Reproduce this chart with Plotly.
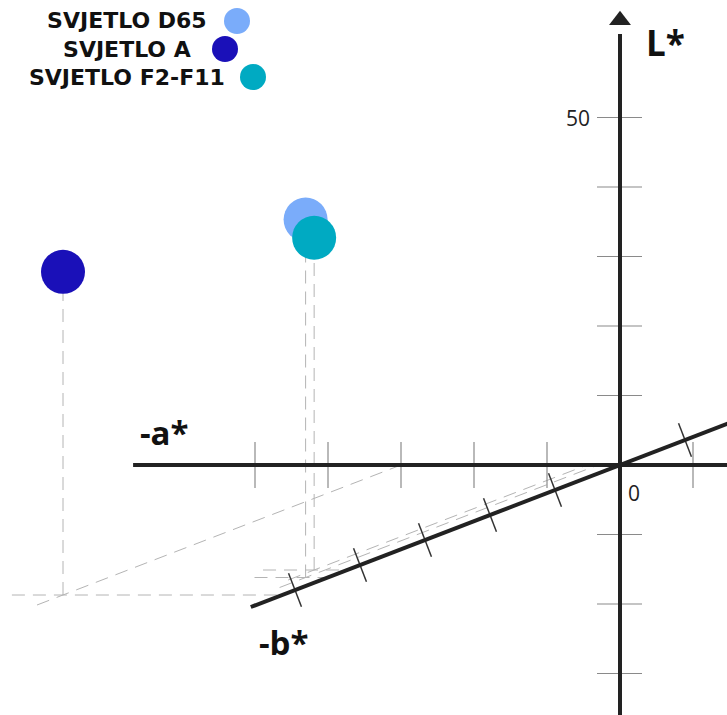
import plotly.graph_objs as go

# light sources, CIELAB values
names = ["SVJETLO D65", "SVJETLO A", "SVJETLO F2-F11"]
a_vals = [-3, -30, -4.5]
b_vals = [-45, -52, -42]
L_vals = [51.5, 46.5, 47.8]
colors = ["#7aacfa", "#1a10b8", "#00aac2"]

L_ticks = [50, 40, 30, 20, 10, -10, -20, -30]
a_ticks = [-50, -40, -30, -20, -10, 10]
b_ticks = [-50, -40, -30, -20, -10, 10]

# oblique projection of (a*, b*, L*) onto the page, one axis unit = one pixel
KA = 7.3
KB = (6.5, 2.5)
KL = 6.95
W, H = 727, 715
OX, OY = 620, 465  # pixel position of the origin


def proj(a, b, L):
    return KA * a + KB[0] * b, KL * L + KB[1] * b


def seg(xs, ys, p, q):
    xs += [p[0], q[0], None]
    ys += [p[1], q[1], None]


fig = go.Figure()

# dashed construction lines
gx, gy = [], []
for a, b, L in zip(a_vals, b_vals, L_vals):
    seg(gx, gy, proj(a, b, 0), proj(a, b, L))
    seg(gx, gy, proj(a - 7, b, 0), proj(0, b, 0))
    seg(gx, gy, proj(a, b - 4, 0), proj(a, 0, 0))
fig.add_trace(go.Scatter(x=gx, y=gy, mode="lines", hoverinfo="skip",
                         line=dict(color="#b4b4b4", width=1, dash="13px,8px")))

# ticks on L* and a*
tx, ty = [], []
for L in L_ticks:
    x, y = proj(0, 0, L)
    seg(tx, ty, (x - 23, y), (x + 22, y))
for a in a_ticks:
    x, y = proj(a, 0, 0)
    seg(tx, ty, (x, y + 23), (x, y - 23))
fig.add_trace(go.Scatter(x=tx, y=ty, mode="lines", hoverinfo="skip",
                         line=dict(color="#8a8a8a", width=1.2)))

# ticks on b*, perpendicular to the axis
n = (KB[0] ** 2 + KB[1] ** 2) ** 0.5
px_, py_ = -KB[1] / n * 18, KB[0] / n * 18
bx, by = [], []
for b in b_ticks:
    x, y = proj(0, b, 0)
    seg(bx, by, (x + px_, y + py_), (x - px_, y - py_))
fig.add_trace(go.Scatter(x=bx, y=by, mode="lines", hoverinfo="skip",
                         line=dict(color="#333333", width=1.5)))

# main axes
ax, ay = [], []
seg(ax, ay, proj(-66.7, 0, 0), proj(15, 0, 0))
seg(ax, ay, proj(0, -56.8, 0), proj(0, 18, 0))
seg(ax, ay, proj(0, 0, -37), proj(0, 0, 62))
fig.add_trace(go.Scatter(x=ax, y=ay, mode="lines", hoverinfo="skip",
                         line=dict(color="#222222", width=4)))
tip = proj(0, 0, 64)
fig.add_trace(go.Scatter(x=[tip[0]], y=[tip[1]], mode="markers", hoverinfo="skip",
                         marker=dict(symbol="triangle-up", size=19, color="#222222")))

# the three light sources
for nm, a, b, L, c in zip(names, a_vals, b_vals, L_vals, colors):
    x, y = proj(a, b, L)
    fig.add_trace(go.Scatter(x=[x], y=[y], mode="markers", name=nm,
                             marker=dict(size=44, color=c, line=dict(width=0))))

bold = dict(family="Open Sans", size=33, color="#111111")
plain = dict(family="Open Sans", size=21, color="#222222")
notes = [
    dict(text="<b>L*</b>", x=45, y=423, font=dict(bold, size=35)),
    dict(text="<b>-a*</b>", x=-456, y=33, font=bold),
    dict(text="<b>-b*</b>", x=-337, y=-177, font=bold),
    dict(text="0", x=14, y=-28, font=plain),
    dict(text="50", x=-42, y=proj(0, 0, 50)[1], font=plain),
]
for nt in notes:
    fig.add_annotation(xref="x", yref="y", showarrow=False, **nt)

# legend drawn by hand: centred text block with a dot after each line
fig.add_annotation(xref="paper", yref="paper", x=127 / W, y=1 - 49 / H,
                   text="<br>".join("<b>" + nm + "</b>" for nm in names),
                   showarrow=False, xanchor="center", yanchor="middle", align="center",
                   font=dict(family="DejaVu Sans", size=22, color="#111111"))
leg_y = [21, 49, 77]
dot_x = [237, 225, 253]
for c, ly, dx in zip(colors, leg_y, dot_x):
    fig.add_shape(type="circle", xref="paper", yref="paper",
                  x0=(dx - 13) / W, x1=(dx + 13) / W,
                  y0=1 - (ly + 13) / H, y1=1 - (ly - 13) / H,
                  fillcolor=c, line=dict(width=0))

fig.update_layout(
    width=W, height=H, margin=dict(l=0, r=0, t=0, b=0),
    paper_bgcolor="white", plot_bgcolor="white", showlegend=False,
    xaxis=dict(range=[-OX, W - OX], visible=False, fixedrange=True),
    yaxis=dict(range=[OY - H, OY], visible=False, fixedrange=True),
)
fig.write_html("out.html", config={"displayModeBar": False},
               post_script="document.body.style.margin='0';")
